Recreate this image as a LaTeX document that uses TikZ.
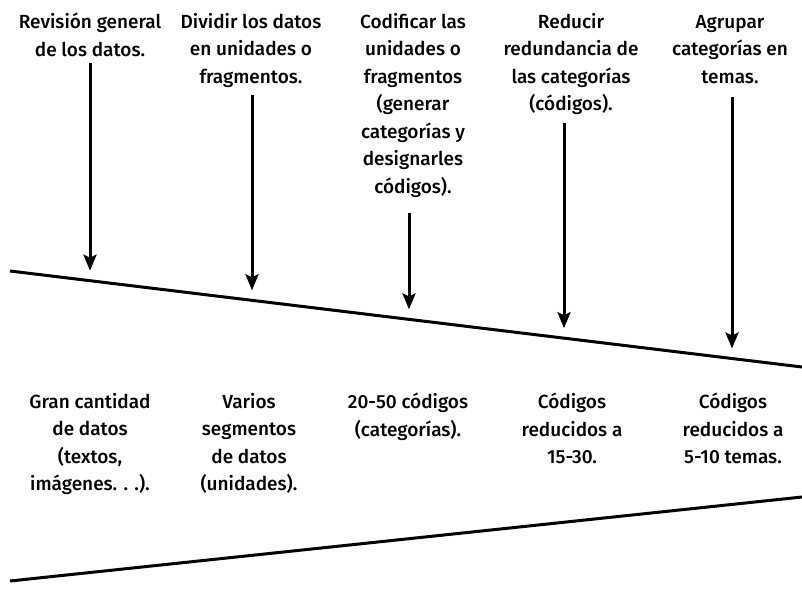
\documentclass[tikz,border=0pt]{standalone}
\usepackage{fontspec}
\IfFontExistsTF{Fira Sans Medium}{\setmainfont{Fira Sans Medium}}{\setmainfont{Fira Sans}}
\usetikzlibrary{arrows.meta}
\newcommand\lstrut{\rule{0pt}{15pt}}
\begin{document}
\begin{tikzpicture}[x=1pt,y=-1pt,
  lbl/.style={anchor=north, inner sep=0pt, align=center, font=\fontsize{19pt}{27.5pt}\selectfont},
  arr/.style={line width=3pt, -{Stealth[length=16pt,width=13pt,inset=3pt]}},
  bar/.style={line width=3pt}]
\useasboundingbox (0,0) rectangle (802,596);
% top labels
\node[lbl] (t1) at (90,13) {\lstrut Revisión general\\de los datos.};
\node[lbl] (t2) at (251,13) {\lstrut Dividir los datos\\en unidades o\\fragmentos.};
\node[lbl] (t3) at (413,13) {\lstrut Codificar las\\unidades o\\fragmentos\\(generar\\categorías y\\designarles\\códigos).};
\node[lbl] (t4) at (571,13) {\lstrut Reducir\\redundancia de\\las categorías\\(códigos).};
\node[lbl] (t5) at (730,13) {\lstrut Agrupar\\categorías en\\temas.};
% bottom labels
\node[lbl] (b1) at (90,393) {\lstrut Gran cantidad\\de datos\\(textos,\\imágenes. . .).};
\node[lbl] (b2) at (249,393) {\lstrut Varios\\segmentos\\de datos\\(unidades).};
\node[lbl] (b3) at (408,393) {\lstrut 20-50 códigos\\(categorías).};
\node[lbl] (b4) at (572,393) {\lstrut Códigos\\reducidos a\\15-30.};
\node[lbl] (b5) at (733,393) {\lstrut Códigos\\reducidos a\\5-10 temas.};
% lines
\coordinate (L1) at (10,271);
\coordinate (R1) at (802,367);
\coordinate (L2) at (10,581);
\coordinate (R2) at (802,497);
\draw[bar] (L1) -- (R1);
\draw[bar] (L2) -- (R2);
% arrows
\coordinate (s1) at (90,63);   \coordinate (e1) at (90,270.7);
\coordinate (s2) at (252,95);  \coordinate (e2) at (252,290.3);
\coordinate (s3) at (409,213); \coordinate (e3) at (409,309.4);
\coordinate (s4) at (564,123); \coordinate (e4) at (564,328.2);
\coordinate (s5) at (732,97);  \coordinate (e5) at (732,348.5);
\draw[arr] (s1) -- (e1);
\draw[arr] (s2) -- (e2);
\draw[arr] (s3) -- (e3);
\draw[arr] (s4) -- (e4);
\draw[arr] (s5) -- (e5);
\end{tikzpicture}
\end{document}
